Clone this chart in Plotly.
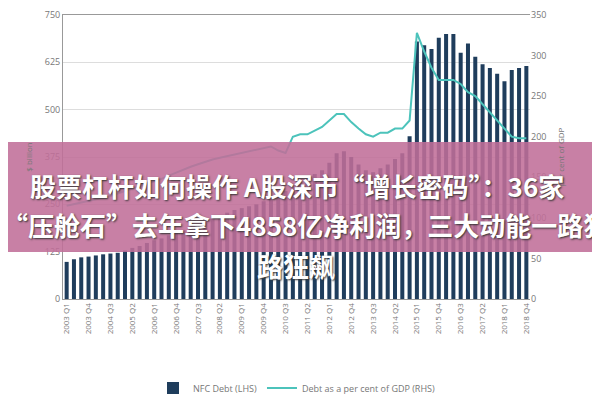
import plotly.graph_objects as go

quarters = [f"{y} Q{q}" for y in range(2003, 2019) for q in range(1, 5)]

nfc_debt = [98, 105, 110, 112, 115, 118, 120, 122, 128, 135, 140, 148, 155, 160, 168, 175,
            182, 190, 198, 205, 212, 220, 228, 235, 240, 245, 250, 258,
            265, 275, 285, 295, 305, 320, 330, 340, 360, 385, 390, 375,
            355, 340, 335, 345, 355, 370, 385, 430,
            680, 670, 660, 690, 700, 700, 650, 675, 640, 620, 610, 595, 575, 605, 610, 615]

debt_gdp = [115, 117, 119, 121, 123, 125, 127, 130, 133, 136, 139, 142, 145, 148, 152, 156,
            160, 163, 166, 169, 172, 174, 176, 178, 180, 182, 184, 186, 188, 183,
            180, 200, 203, 203, 207, 212, 220, 228, 228, 218, 210, 203, 200, 205, 205, 210,
            210, 220, 328, 305, 285, 270, 270, 270, 265, 255, 250, 240, 230, 220, 210, 200,
            198, 198]

tick_labels = quarters[::3]

fig = go.Figure()
fig.add_trace(go.Bar(x=quarters, y=nfc_debt, name="NFC Debt (LHS)",
                     marker=dict(color="#1f3d5c", line=dict(width=0))))
fig.add_trace(go.Scatter(x=quarters, y=debt_gdp, name="Debt as a per cent of GDP (RHS)",
                         mode="lines", line=dict(color="#4cc3bb", width=2), yaxis="y2"))

fig.update_layout(
    width=600, height=400,
    margin=dict(l=55, r=78, t=7, b=109, autoexpand=False),
    plot_bgcolor="white", paper_bgcolor="white",
    bargap=0.45, showlegend=True,
    font=dict(family="Open Sans", size=9, color="#777"),
    xaxis=dict(tickmode="array", tickvals=tick_labels, ticktext=tick_labels,
               tickangle=-90, tickfont=dict(size=8), showline=True, linecolor="#999",
               mirror=True, automargin=False),
    yaxis=dict(range=[0, 750], dtick=125, gridcolor="#ddd", showline=True,
               linecolor="#999", automargin=False,
               title=dict(text="$ billion", font=dict(size=8), standoff=10)),
    yaxis2=dict(range=[0, 350], dtick=50, overlaying="y", side="right",
                showgrid=False, automargin=False,
                title=dict(text="per cent of GDP", font=dict(size=8), standoff=12)),
    legend=dict(orientation="h", x=0.5, xanchor="center", yref="container",
                y=0.05, yanchor="middle", font=dict(size=9)),
)

def py(p):
    return (299 - p) / 284

def px(p):
    return (p - 63) / 467

fig.add_shape(type="rect", xref="paper", yref="paper", x0=px(0), x1=px(610),
              y0=py(252), y1=py(142),
              fillcolor="rgba(192,110,152,0.88)", line=dict(width=0), layer="above")
banner = ["股票杠杆如何操作 A股深市“增长密码”：36家",
          "“压舱石”去年拿下4858亿净利润，三大动能一路狂飙",
          "路狂飙"]
for t, xx, yy in zip(banner, [28, 0, 255], [185, 224, 265]):
    fig.add_annotation(text=f"<b>{t}</b>", xref="paper", yref="paper",
                       x=px(xx), y=py(yy), xanchor="left", yanchor="middle",
                       showarrow=False,
                       font=dict(size=26, color="white", family="Noto Sans CJK SC",
                                 shadow="1px 1px 2px #333"))

fig.write_html("out.html")
